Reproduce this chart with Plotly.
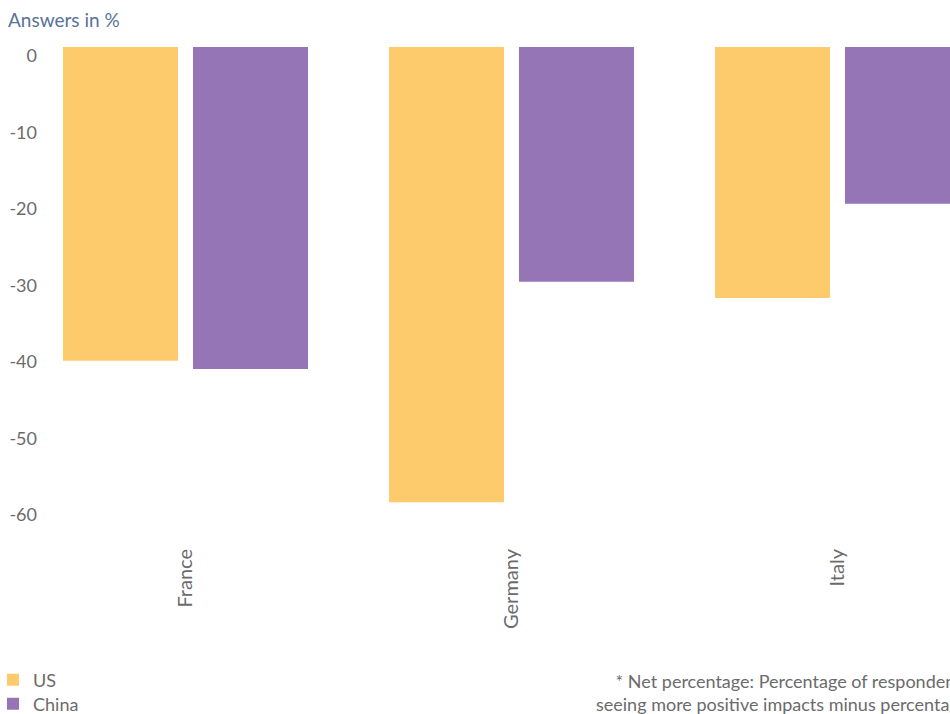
import plotly.graph_objects as go

categories = ["France", "Germany", "Italy"]
us_values = [-41.0, -59.5, -32.8]
china_values = [-42.1, -30.7, -20.5]
y_ticks = [0, -10, -20, -30, -40, -50, -60]
y_tick_labels = ["0", "-10", "-20", "-30", "-40", "-50", "-60"]

font_family = "Lato, 'Open Sans', sans-serif"
gray = "#6b6b6b"

W, H = 950, 714
L, T, B = 45, 47, 208

pw = W - L
ph = H - T - B
def px_x(px):
    return (px - L) / pw
def px_y(py):
    return (H - B - py) / ph

fig = go.Figure()
fig.add_trace(go.Bar(name="US", x=categories, y=us_values, legend="legend",
                     marker=dict(color="#FDCB6B", line=dict(width=0))))
fig.add_trace(go.Bar(name="China", x=categories, y=china_values, legend="legend2",
                     marker=dict(color="#9575B5", line=dict(width=0))))

legend_common = dict(orientation="v", xref="paper", xanchor="left",
                     yref="paper", yanchor="middle",
                     font=dict(size=18, color=gray), itemwidth=30,
                     bgcolor="rgba(0,0,0,0)", borderwidth=0)

fig.update_layout(
    width=W, height=H,
    margin=dict(l=L, r=0, t=T, b=B, autoexpand=False),
    paper_bgcolor="white", plot_bgcolor="white",
    barmode="group", bargap=0.2025, bargroupgap=0.115,
    font=dict(family=font_family, size=18, color=gray),
    showlegend=True,
    legend=dict(legend_common, x=px_x(-7), y=px_y(680)),
    legend2=dict(legend_common, x=px_x(-7), y=px_y(704)),
    xaxis=dict(range=[-0.431, 2.345], showgrid=False, zeroline=False,
               showline=False, tickangle=-90, ticks="", automargin=False,
               ticklabelstandoff=38, tickfont=dict(size=20, color=gray)),
    yaxis=dict(range=[-60, 0], tickvals=y_ticks, ticktext=y_tick_labels,
               showgrid=False, automargin=False,
               zeroline=False, showline=False, ticks="",
               ticklabelshift=9, ticklabelstandoff=7,
               tickfont=dict(size=18, color=gray)),
    annotations=[
        dict(text="Answers in %", xref="paper", yref="paper",
             x=px_x(6), y=px_y(20), xanchor="left", yanchor="middle",
             showarrow=False, font=dict(size=19, color="#5A7399")),
        dict(text="* Net percentage: Percentage of respondents<br>seeing more positive impacts minus percentage of",
             xref="paper", yref="paper", x=px_x(793), y=px_y(692),
             xanchor="center", yanchor="middle", align="center",
             showarrow=False, font=dict(size=18, color=gray)),
    ],
)

fig.write_html(
    "out.html",
    config={"displayModeBar": False},
    post_script="document.body.style.margin='0';document.body.style.overflow='hidden';",
)
